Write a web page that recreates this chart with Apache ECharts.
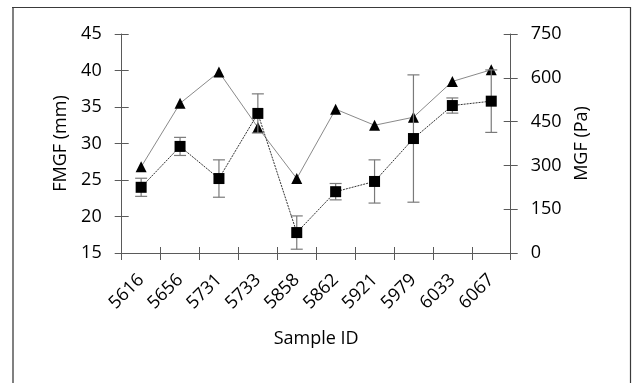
<!DOCTYPE html>
<html>
<head>
<meta charset="utf-8">
<script src="https://cdn.jsdelivr.net/npm/echarts@6/dist/echarts.min.js"></script>
<style>
html,body{margin:0;padding:0;background:#fff;}
#chart{width:632px;height:383px;}
</style>
</head>
<body>
<div id="chart"></div>
<script>
// ---- data ----
const categories = ['5616','5656','5731','5733','5858','5862','5921','5979','6033','6067'];
const fmgf = [26.8, 35.5, 39.8, 32.2, 25.2, 34.7, 32.5, 33.6, 38.5, 40.1];   // FMGF (mm), triangles
const mgf = [225, 365, 255, 478, 70, 210, 245, 392, 505, 520];              // MGF (Pa), squares
const mgfErr = [31, 31, 64, 67, 57, 28, 74, 218, 26, 107];                  // MGF error (Pa)
const leftTicks = {min: 15, max: 45, interval: 5};
const rightTicks = {min: 0, max: 750, interval: 150};

const FONT = 'Open Sans';
const FS = 18;
const TXT = '#000';
const AX = '#5a5a5a';

const errData = categories.map((c, i) => [i, mgf[i] - mgfErr[i], mgf[i] + mgfErr[i]]);

const chart = echarts.init(document.getElementById('chart'), null, {renderer: 'canvas'});

const baseY = (t, pos) => ({
  type: 'value', position: pos, min: t.min, max: t.max, interval: t.interval,
  splitLine: {show: false},
  axisLine: {show: true, lineStyle: {color: AX, width: 1}},
  axisTick: {show: true, length: 7, lineStyle: {color: AX}},
  axisLabel: {show: true, color: TXT, fontFamily: FONT, fontSize: FS, margin: 20}
});

const option = {
  animation: false,
  backgroundColor: '#fff',
  grid: {left: 121.7, right: 121.3, top: 34, bottom: 130, containLabel: false},
  graphic: [
    {type: 'line', shape: {x1: 13, y1: 7, x2: 13, y2: 383}, style: {stroke: '#808080', lineWidth: 2}},
    {type: 'line', shape: {x1: 12, y1: 7.5, x2: 631, y2: 7.5}, style: {stroke: '#3a3a3a', lineWidth: 1.2}},
    {type: 'line', shape: {x1: 630.5, y1: 7, x2: 630.5, y2: 383}, style: {stroke: '#3a3a3a', lineWidth: 1.2}}
  ],
  xAxis: [
    {
      type: 'category', data: categories, boundaryGap: true, position: 'bottom',
      name: 'Sample ID', nameLocation: 'middle', nameGap: 77,
      nameTextStyle: {color: TXT, fontFamily: FONT, fontSize: FS},
      axisLine: {show: true, lineStyle: {color: AX, width: 1}},
      axisTick: {show: true, interval: 0, length: 7, lineStyle: {color: AX}},
      axisLabel: {interval: 0, rotate: 45, color: TXT, fontFamily: FONT, fontSize: FS, margin: 24,
        padding: [11, 0, 0, 0]}
    },
    {
      type: 'category', data: categories, boundaryGap: true, position: 'bottom',
      axisLine: {show: false},
      axisTick: {show: true, inside: true, interval: 0, length: 6, lineStyle: {color: AX}},
      axisLabel: {show: false}
    }
  ],
  yAxis: [
    Object.assign(baseY(leftTicks, 'left'), {
      name: 'FMGF (mm)', nameLocation: 'middle', nameGap: 52,
      nameTextStyle: {color: TXT, fontFamily: FONT, fontSize: FS}
    }),
    Object.assign(baseY(rightTicks, 'right'), {
      name: 'MGF (Pa)', nameLocation: 'middle', nameGap: 62, nameRotate: 90,
      nameTextStyle: {color: TXT, fontFamily: FONT, fontSize: FS}
    }),
    Object.assign(baseY(leftTicks, 'left'), {axisLine: {show: false}, axisLabel: {show: false},
      axisTick: {show: true, inside: true, length: 7, lineStyle: {color: AX}}}),
    Object.assign(baseY(rightTicks, 'right'), {axisLine: {show: false}, axisLabel: {show: false},
      axisTick: {show: true, inside: true, length: 7, lineStyle: {color: AX}}})
  ],
  series: [
    {
      name: 'FMGF', type: 'line', xAxisIndex: 0, yAxisIndex: 0, data: fmgf,
      symbol: 'triangle', symbolSize: 11,
      itemStyle: {color: '#000'},
      lineStyle: {color: '#8a8a8a', width: 1},
      z: 2
    },
    {
      name: 'err', type: 'custom', xAxisIndex: 0, yAxisIndex: 1, data: errData,
      encode: {x: 0, y: [1, 2]},
      renderItem: function (params, api) {
        const i = api.value(0);
        const lo = api.coord([i, api.value(1)]);
        const hi = api.coord([i, api.value(2)]);
        const hw = 6;
        const st = {stroke: '#7a7a7a', lineWidth: 1.2};
        return {type: 'group', children: [
          {type: 'line', shape: {x1: lo[0], y1: lo[1], x2: hi[0], y2: hi[1]}, style: st},
          {type: 'line', shape: {x1: lo[0] - hw, y1: lo[1], x2: lo[0] + hw, y2: lo[1]}, style: st},
          {type: 'line', shape: {x1: hi[0] - hw, y1: hi[1], x2: hi[0] + hw, y2: hi[1]}, style: st}
        ]};
      },
      z: 3
    },
    {
      name: 'MGF', type: 'line', xAxisIndex: 0, yAxisIndex: 1, data: mgf,
      symbol: 'rect', symbolSize: 11,
      itemStyle: {color: '#000'},
      lineStyle: {color: '#333', width: 1, type: [2, 1]},
      z: 4
    }
  ]
};
chart.setOption(option);
</script>
</body>
</html>
